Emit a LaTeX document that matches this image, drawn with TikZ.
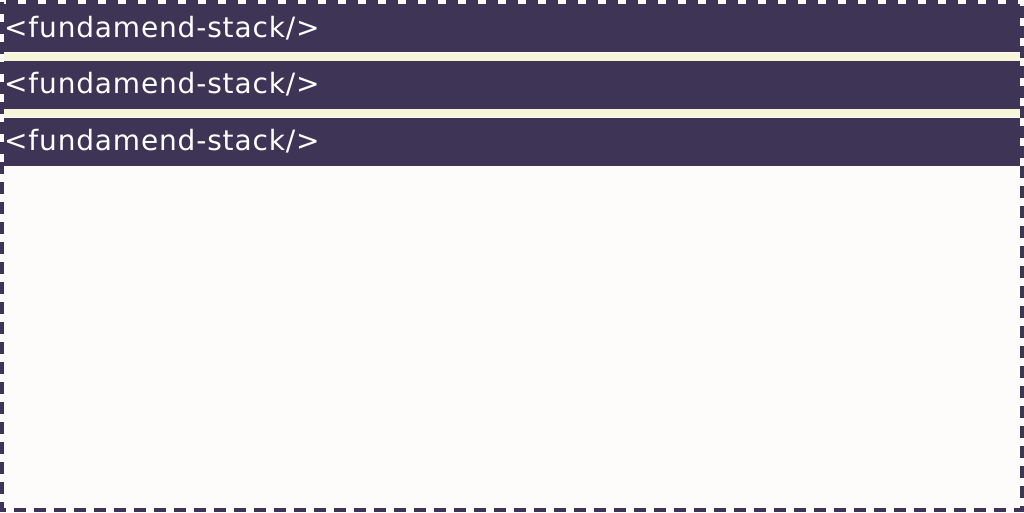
\documentclass[tikz,border=0pt]{standalone}
\usepackage{fontspec}
\setsansfont[LetterSpace=3]{DejaVu Sans}
\definecolor{stackpurple}{HTML}{3E3455}
\definecolor{stackcream}{HTML}{F7F6D8}
\definecolor{pagewhite}{HTML}{FDFCFA}
\tikzset{
  stackbar/.style={fill=stackpurple,minimum width=1016pt,minimum height=48pt,inner sep=0pt,anchor=north west},
  stackgap/.style={fill=stackcream,minimum width=1016pt,minimum height=8pt,inner sep=0pt,anchor=north west},
  stacklabel/.style={text=white,anchor=base west,inner sep=0pt,font=\sffamily\fontsize{28}{32}\selectfont}
}
\begin{document}
\begin{tikzpicture}[x=1pt,y=-1pt]
\useasboundingbox (0,0) rectangle (1024,512);
\fill[pagewhite] (0,0) rectangle (1024,512);

\node[stackbar] (bar1) at (4,4) {};
\node[stackgap] (gap1) at (bar1.south west) {};
\node[stackbar] (bar2) at (gap1.south west) {};
\node[stackgap] (gap2) at (bar2.south west) {};
\node[stackbar] (bar3) at (gap2.south west) {};

\node[stacklabel] (label1) at ([yshift=-33pt]bar1.north west) {<fundamend-stack/>};
\node[stacklabel] (label2) at ([yshift=-33pt]bar2.north west) {<fundamend-stack/>};
\node[stacklabel] (label3) at ([yshift=-33pt]bar3.north west) {<fundamend-stack/>};

\draw[stackpurple,line width=4pt,dash pattern=on 12pt off 8pt] (2,2) rectangle (1022,510);
\end{tikzpicture}
\end{document}
